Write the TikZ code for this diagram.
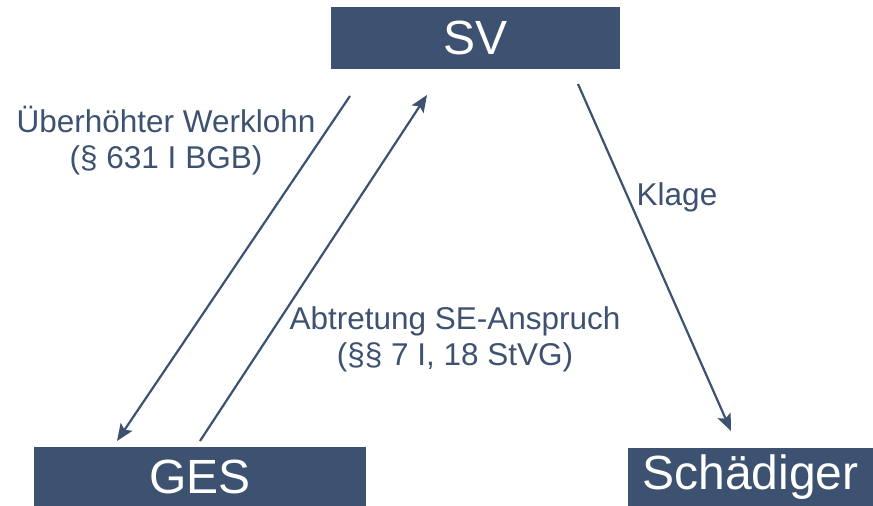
\documentclass[tikz,border=0pt]{standalone}
\usepackage{fontspec}
\setmainfont{Liberation Sans}
\usetikzlibrary{arrows.meta, positioning, calc}
\definecolor{navy}{HTML}{3D5170}

\begin{document}
\begin{tikzpicture}[x=1pt,y=-1pt,>={Stealth[length=17pt,width=14pt,inset=3.5pt]},
    party/.style={rectangle, fill=navy, text=white, inner sep=0pt, font=\fontsize{48}{52}\selectfont},
    claim/.style={draw=navy, line width=2.2pt, ->},
    lbl/.style={text=navy, align=center, inner sep=0pt, font=\fontsize{31.5}{36}\selectfont}]
\useasboundingbox (0,0) rectangle (873,506);

% Parties
\node[party, minimum width=289pt, minimum height=62pt] (sv) at (475.5,38) {SV};
\node[party, minimum width=332pt, minimum height=59pt] (ges) at (200,476.5) {GES};
\node[party, minimum width=245pt, minimum height=58pt] (schaed) at (750.5,477) {Schädiger};

% Ends of the arrows
\coordinate (werkStart) at (350,96);
\coordinate (werkEnd) at (117,441);
\coordinate (abtrStart) at (200,441);
\coordinate (abtrEnd) at (427,95);
\coordinate (klageStart) at (578,84);
\coordinate (klageEnd) at (731,431);

% Arrows
\draw[claim] (werkStart) -- (werkEnd);
\draw[claim] (abtrStart) -- (abtrEnd);
\draw[claim] (klageStart) -- (klageEnd);

% Labels
\node[lbl] (werkLbl) at (166,141) {Überhöhter Werklohn\\(§ 631 I BGB)};
\node[lbl] (abtrLbl) at (455,339) {Abtretung SE-Anspruch\\(§§ 7 I, 18 StVG)};
\node[lbl] (klageLbl) at (677,197) {Klage};

\end{tikzpicture}
\end{document}
